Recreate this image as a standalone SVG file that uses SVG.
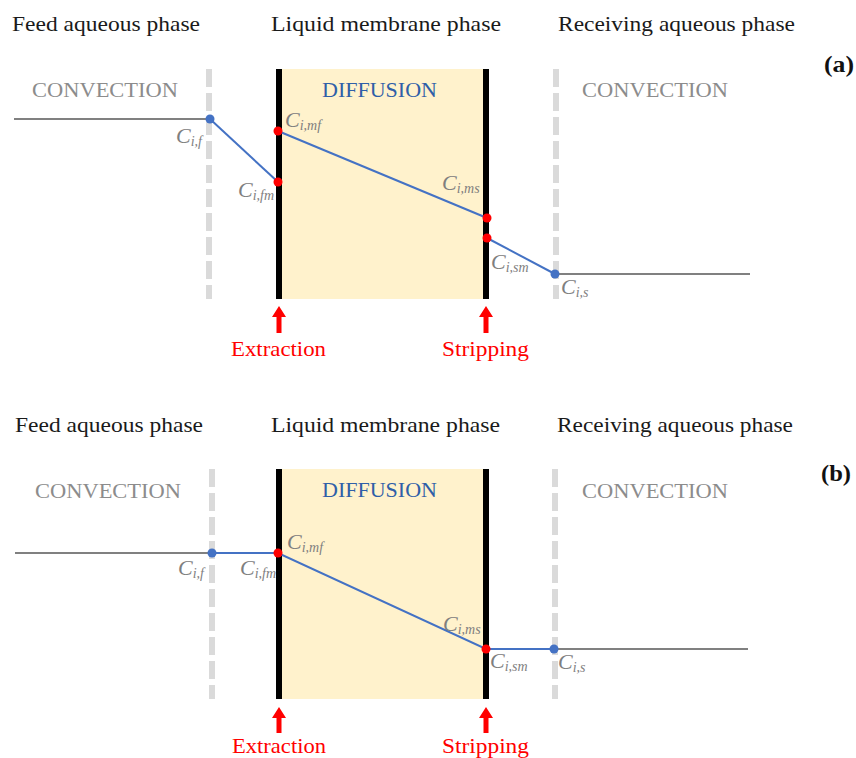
<svg xmlns="http://www.w3.org/2000/svg" width="856" height="758" viewBox="0 0 856 758">
<defs>
<style>
.title{font-family:"Liberation Serif","Times New Roman",serif;font-size:21px;fill:#1a1a1a}
.conv{font-family:"Liberation Serif","Times New Roman",serif;font-size:22px;fill:#8c8c8c}
.diff{font-family:"Liberation Serif","Times New Roman",serif;font-size:22px;fill:#2f5fa8}
.panel{font-family:"Liberation Serif","Times New Roman",serif;font-size:24px;font-weight:bold;fill:#111}
.lab{font-family:"Liberation Serif","Times New Roman",serif;font-style:italic;font-size:22px;fill:#7f7f7f}
.sub{font-size:14px}
.red{font-family:"Liberation Serif","Times New Roman",serif;font-size:21px;fill:#ff0000}
.dash{stroke:#dadada;stroke-width:6;stroke-dasharray:18 6;fill:none}
.mem{fill:#fff2cc}
.edge{stroke:#000;stroke-width:6}
.grey{stroke:#808080;stroke-width:2;fill:none}
.blue{stroke:#4472c4;stroke-width:2;fill:none}
.bdot{fill:#4472c4}
.rdot{fill:#ff0000}
.arr{fill:#ff0000}
</style>
</defs>

<!-- Panel (a) -->
<g id="a-titles">
<text class="title" x="12" y="31" textLength="188" lengthAdjust="spacingAndGlyphs">Feed aqueous phase</text>
<text class="title" x="271" y="31" textLength="230" lengthAdjust="spacingAndGlyphs">Liquid membrane phase</text>
<text class="title" x="558" y="31" textLength="237" lengthAdjust="spacingAndGlyphs">Receiving aqueous phase</text>
<text class="panel" x="824" y="72" textLength="30" lengthAdjust="spacingAndGlyphs">(a)</text>
</g>
<g id="a-membrane">
<rect class="mem" x="279" y="69" width="207" height="230"/>
<line class="edge" x1="279" y1="69" x2="279" y2="299"/>
<line class="edge" x1="486" y1="69" x2="486" y2="299"/>
<text class="diff" x="322" y="97" textLength="115" lengthAdjust="spacingAndGlyphs">DIFFUSION</text>
</g>
<g id="a-feed">
<line class="dash" x1="209" y1="69" x2="209" y2="299"/>
<text class="conv" x="32" y="97" textLength="146" lengthAdjust="spacingAndGlyphs">CONVECTION</text>
</g>
<g id="a-receiving">
<line class="dash" x1="556" y1="69" x2="556" y2="299"/>
<text class="conv" x="582" y="97" textLength="146" lengthAdjust="spacingAndGlyphs">CONVECTION</text>
</g>
<g id="a-connectors">
<polyline class="grey" points="14,119 210,119"/>
<polyline class="blue" points="210,119 278,182"/>
<polyline class="blue" points="278,131 487,218"/>
<polyline class="blue" points="487,238 555,274"/>
<polyline class="grey" points="555,274 750,274"/>
<circle class="bdot" cx="210" cy="119" r="4.5"/>
<circle class="rdot" cx="278" cy="131" r="4.5"/>
<circle class="rdot" cx="278" cy="182" r="4.5"/>
<circle class="rdot" cx="487" cy="218" r="4.5"/>
<circle class="rdot" cx="487" cy="238" r="4.5"/>
<circle class="bdot" cx="555" cy="274" r="4.5"/>
</g>
<g id="a-labels">
<text class="lab" x="176" y="143">C<tspan class="sub" dy="3">i,f</tspan></text>
<text class="lab" x="285" y="127">C<tspan class="sub" dy="3">i,mf</tspan></text>
<text class="lab" x="238" y="197">C<tspan class="sub" dy="3">i,fm</tspan></text>
<text class="lab" x="442" y="190">C<tspan class="sub" dy="3">i,ms</tspan></text>
<text class="lab" x="491" y="269">C<tspan class="sub" dy="3">i,sm</tspan></text>
<text class="lab" x="561" y="294">C<tspan class="sub" dy="3">i,s</tspan></text>
</g>
<g id="a-extraction">
<polygon class="arr" points="279,306 272,317 276.5,317 276.5,333 281.5,333 281.5,317 286,317"/>
<text class="red" x="231" y="356" textLength="95" lengthAdjust="spacingAndGlyphs">Extraction</text>
</g>
<g id="a-stripping">
<polygon class="arr" points="486,306 479,317 483.5,317 483.5,333 488.5,333 488.5,317 493,317"/>
<text class="red" x="442" y="356" textLength="87" lengthAdjust="spacingAndGlyphs">Stripping</text>
</g>

<!-- Panel (b) -->
<g id="b-titles">
<text class="title" x="15" y="432" textLength="188" lengthAdjust="spacingAndGlyphs">Feed aqueous phase</text>
<text class="title" x="271" y="432" textLength="229" lengthAdjust="spacingAndGlyphs">Liquid membrane phase</text>
<text class="title" x="557" y="432" textLength="236" lengthAdjust="spacingAndGlyphs">Receiving aqueous phase</text>
<text class="panel" x="821" y="481" textLength="30" lengthAdjust="spacingAndGlyphs">(b)</text>
</g>
<g id="b-membrane">
<rect class="mem" x="279" y="469" width="207" height="230"/>
<line class="edge" x1="279" y1="469" x2="279" y2="699"/>
<line class="edge" x1="486" y1="469" x2="486" y2="699"/>
<text class="diff" x="322" y="497" textLength="115" lengthAdjust="spacingAndGlyphs">DIFFUSION</text>
</g>
<g id="b-feed">
<line class="dash" x1="212" y1="469" x2="212" y2="699"/>
<text class="conv" x="35" y="498" textLength="146" lengthAdjust="spacingAndGlyphs">CONVECTION</text>
</g>
<g id="b-receiving">
<line class="dash" x1="555" y1="469" x2="555" y2="699"/>
<text class="conv" x="582" y="498" textLength="146" lengthAdjust="spacingAndGlyphs">CONVECTION</text>
</g>
<g id="b-connectors">
<polyline class="grey" points="15,553 212,553"/>
<polyline class="blue" points="212,553 278,553 486,649 554,649"/>
<polyline class="grey" points="554,649 748,649"/>
<circle class="bdot" cx="212" cy="553" r="4.5"/>
<circle class="rdot" cx="278" cy="553" r="4.5"/>
<circle class="rdot" cx="486" cy="649" r="4.5"/>
<circle class="bdot" cx="554" cy="649" r="4.5"/>
</g>
<g id="b-labels">
<text class="lab" x="178" y="575">C<tspan class="sub" dy="3">i,f</tspan></text>
<text class="lab" x="287" y="549">C<tspan class="sub" dy="3">i,mf</tspan></text>
<text class="lab" x="240" y="575">C<tspan class="sub" dy="3">i,fm</tspan></text>
<text class="lab" x="443" y="631">C<tspan class="sub" dy="3">i,ms</tspan></text>
<text class="lab" x="490" y="668">C<tspan class="sub" dy="3">i,sm</tspan></text>
<text class="lab" x="558" y="669">C<tspan class="sub" dy="3">i,s</tspan></text>
</g>
<g id="b-extraction">
<polygon class="arr" points="279,707 272,718 276.5,718 276.5,733 281.5,733 281.5,718 286,718"/>
<text class="red" x="232" y="753" textLength="94" lengthAdjust="spacingAndGlyphs">Extraction</text>
</g>
<g id="b-stripping">
<polygon class="arr" points="486,707 479,718 483.5,718 483.5,733 488.5,733 488.5,718 493,718"/>
<text class="red" x="442" y="753" textLength="87" lengthAdjust="spacingAndGlyphs">Stripping</text>
</g>
</svg>
